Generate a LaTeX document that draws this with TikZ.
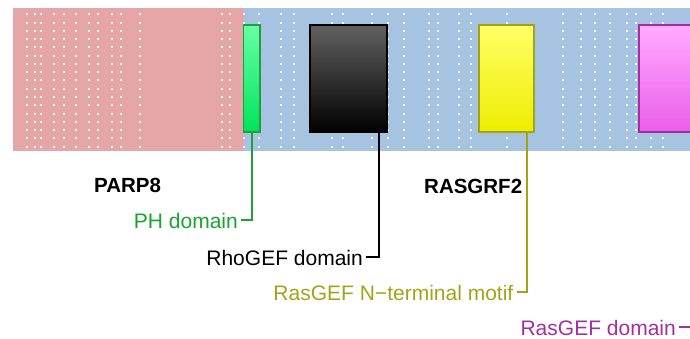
\documentclass[tikz,border=0pt]{standalone}
\usepackage{fontspec}
\setmainfont{Liberation Sans}
\definecolor{pinkbg}{HTML}{E4A6A6}
\definecolor{bluebg}{HTML}{A7C3E2}
\definecolor{phline}{HTML}{1FA03A}
\definecolor{phtext}{HTML}{1AA32E}
\definecolor{olive}{HTML}{A3A31A}
\definecolor{purp}{HTML}{A030A0}
\definecolor{gtop}{HTML}{66FFA3}
\definecolor{gbot}{HTML}{00E35C}
\tikzset{
  domainbox/.style={draw, line width=1.8pt, inner sep=0pt, minimum height=107pt},
  lab/.style={font=\fontsize{21}{24}\selectfont, anchor=east, inner xsep=3pt, inner ysep=0pt, text height=17pt, text depth=0pt},
  genelab/.style={font=\fontsize{20.5}{24}\selectfont\bfseries, anchor=base west, inner sep=0pt},
  conn/.style={line width=2pt},
  dot/.style={fill=white, fill opacity=0.9}
}
\begin{document}
\begin{tikzpicture}[x=1pt,y=-1pt]
\useasboundingbox (0,0) rectangle (690,339);
\clip (0,0) rectangle (690,339);
% backgrounds
\fill[pinkbg] (13,8) rectangle (243.5,150.7);
\fill[bluebg] (243.5,8) rectangle (700,150.7);
% dots
\foreach \x in {27,35,40.7,54,64.3,75.7,89.3,98.3,111.7,121.3,140,222.3,230,244,
  259.3,281,294.3,331.7,343.3,371.7,387.7,404.3,429,438.3,458.7,470.5,506.7,
  562.7,581.3,594.7,610,626.7,635.7,650.7,663.3}
  \foreach \k in {0,...,16}
    \fill[dot] ({\x-1},{14.3+8.27*\k-1}) rectangle ++(2,2);
% domain boxes
\node[domainbox, draw=phline, top color=gtop, bottom color=gbot, minimum width=16.5pt]
  (ph) at (251.8,78.9) {};
\node[domainbox, draw=black, top color=black!62, bottom color=black, minimum width=76.5pt]
  (rho) at (348.5,78.9) {};
\node[domainbox, draw=olive, top color=yellow!60!white, middle color=yellow!90!white, bottom color=yellow!93!black, minimum width=55pt]
  (rasn) at (506.85,78.9) {};
\node[domainbox, draw=purp, top color=magenta!33!white, middle color=magenta!45!white, bottom color=magenta!60!white!92!black, minimum width=101.3pt]
  (ras) at (689.35,78.9) {};
% gene names
\node[genelab] (parp) at (94,192.5) {PARP8};
\node[genelab] (rasgrf) at (424,193.5) {RASGRF2};
% domain labels
\node[lab, text=phtext] (phlab) at (241,220) {PH domain};
\node[lab, text=black] (rholab) at (366,256.5) {RhoGEF domain};
\node[lab, text=olive] (rasnlab) at (516.5,291.5) {RasGEF N−terminal motif};
\node[lab, text=purp] (raslab) at (679,326.5) {RasGEF domain};
% connector start points on the boxes
\coordinate (phtip) at (252.3,132.5);
\coordinate (rhotip) at (379.3,132.5);
\coordinate (rasntip) at (526.7,132.5);
\coordinate (rastip) at (705,132.5);
\draw[conn, phline] (phtip) |- (phlab.east);
\draw[conn, black] (rhotip) |- (rholab.east);
\draw[conn, olive] (rasntip) |- (rasnlab.east);
\draw[conn, purp] (rastip) |- (raslab.east);
\end{tikzpicture}
\end{document}
